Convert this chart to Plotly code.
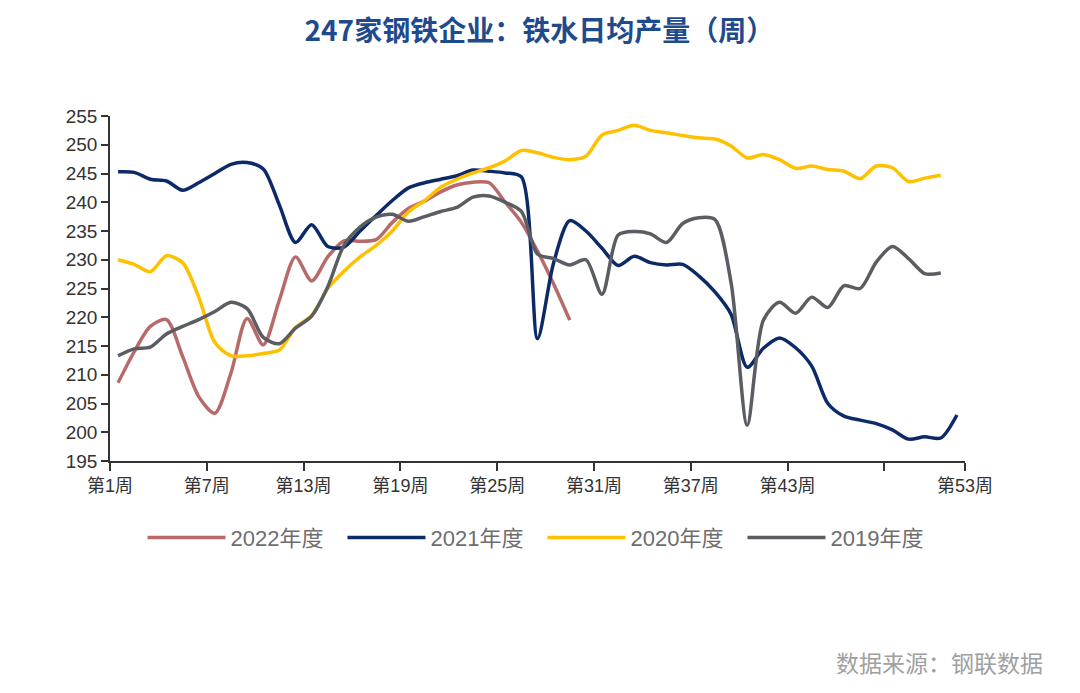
import plotly.graph_objects as go

weeks = list(range(1, 54))

y2022 = [208.6, 214.0, 218.4, 219.6, 213.2, 206.2, 203.3, 210.3, 219.8, 215.2,
         223.0, 230.5, 226.3, 230.5, 233.3, 233.2, 233.5, 236.5, 238.9, 240.2,
         241.8, 243.0, 243.5, 243.4, 240.0, 236.5, 231.5, 225.8, 219.5]

y2021 = [245.3, 245.2, 244.0, 243.7, 242.1, 243.4, 245.0, 246.6, 246.9, 245.8,
         239.5, 233.0, 236.1, 232.3, 232.2, 235.0, 237.7, 240.3, 242.5, 243.4,
         244.0, 244.6, 245.6, 245.4, 245.1, 244.4, 216.3, 229.5, 236.8, 235.0,
         232.0, 229.0, 230.6, 229.5, 229.1, 229.2, 227.2, 224.4, 220.5, 211.3,
         214.6, 216.4, 214.7, 211.5, 205.0, 202.8, 202.1, 201.5, 200.4, 198.8,
         199.2, 199.0, 203.0]

y2020 = [230.0, 229.2, 227.9, 230.7, 229.5, 223.5, 215.6, 213.3, 213.3, 213.7,
         214.3, 218.2, 220.3, 225.0, 228.0, 230.5, 232.5, 235.0, 238.3, 240.3,
         242.6, 244.0, 245.1, 246.0, 247.2, 249.0, 248.6, 247.8, 247.4, 248.0,
         251.7, 252.5, 253.4, 252.5, 252.1, 251.6, 251.2, 251.0, 249.8, 247.7,
         248.3, 247.4, 245.9, 246.3, 245.7, 245.4, 244.1, 246.3, 246.0, 243.6,
         244.2, 244.7]

y2019 = [213.3, 214.5, 214.8, 217.1, 218.4, 219.6, 221.0, 222.6, 221.5, 216.5,
         215.4, 218.1, 220.2, 225.3, 232.5, 235.7, 237.4, 237.9, 236.7, 237.5,
         238.4, 239.1, 240.9, 241.1, 240.0, 238.4, 231.0, 230.2, 229.1, 230.0,
         224.0, 234.3, 234.9, 234.5, 233.0, 236.3, 237.3, 237.0, 226.0, 201.2,
         219.5, 222.6, 220.7, 223.5, 221.7, 225.5, 225.0, 229.6, 232.3, 230.2,
         227.6, 227.7]

tick_weeks = [1, 7, 13, 19, 25, 31, 37, 43, 49, 54]
tick_text = ["第1周", "第7周", "第13周", "第19周", "第25周", "第31周",
             "第37周", "第43周", "", "第53周"]

series = [
    ("2022年度", y2022, "#B86A6B"),
    ("2021年度", y2021, "#0C2A68"),
    ("2020年度", y2020, "#FFC000"),
    ("2019年度", y2019, "#5A5D61"),
]

fig = go.Figure()
for name, vals, color in series:
    xs = [w - 0.5 for w in weeks[:len(vals)]]
    fig.add_trace(go.Scatter(
        x=xs, y=vals, name=name, mode="lines",
        line=dict(color=color, width=3.5, shape="spline", smoothing=0.8),
    ))

fig.update_layout(
    width=1080, height=693,
    paper_bgcolor="white", plot_bgcolor="white",
    margin=dict(l=102, r=123, t=108, b=240, autoexpand=False),
    font=dict(family="Liberation Sans Narrow, Liberation Sans, Noto Sans CJK SC", color="#333333"),
    title=dict(
        text="247家钢铁企业：铁水日均产量（周）",
        x=0.492, xanchor="center", y=0.966, yanchor="middle",
        font=dict(family="Noto Sans CJK SC", size=28, color="#1F4B8C", weight="bold"),
    ),
    showlegend=True,
    legend=dict(
        orientation="h", x=0.038, xanchor="left", y=-0.2226, yanchor="middle",
        font=dict(size=22, color="#6E6E6E"),
        entrywidth=107, entrywidthmode="pixels",
        itemwidth=78,
    ),
    xaxis=dict(
        range=[0, 53], showgrid=False, zeroline=False, automargin=False,
        tickmode="array",
        tickvals=[w - 1 for w in tick_weeks],
        ticktext=tick_text,
        ticks="outside", ticklen=8, tickwidth=1.5, tickcolor="#333333",
        showline=True, linecolor="#333333", linewidth=1.5,
        tickfont=dict(size=18, color="#333333"),
    ),
    yaxis=dict(
        range=[195, 255], dtick=5, showgrid=False, zeroline=False, automargin=False,
        ticks="outside", ticklen=7, tickwidth=1.5, tickcolor="#333333",
        showline=True, linecolor="#333333", linewidth=1.5,
        tickfont=dict(size=19, color="#333333"),
    ),
    annotations=[dict(
        text="数据来源：钢联数据", xref="paper", yref="paper",
        x=1.0936, xanchor="right", y=-0.583, yanchor="middle", showarrow=False,
        font=dict(family="Noto Sans CJK SC", size=23, color="#A0A0A0"),
    )],
)

fig.write_html("out.html")
